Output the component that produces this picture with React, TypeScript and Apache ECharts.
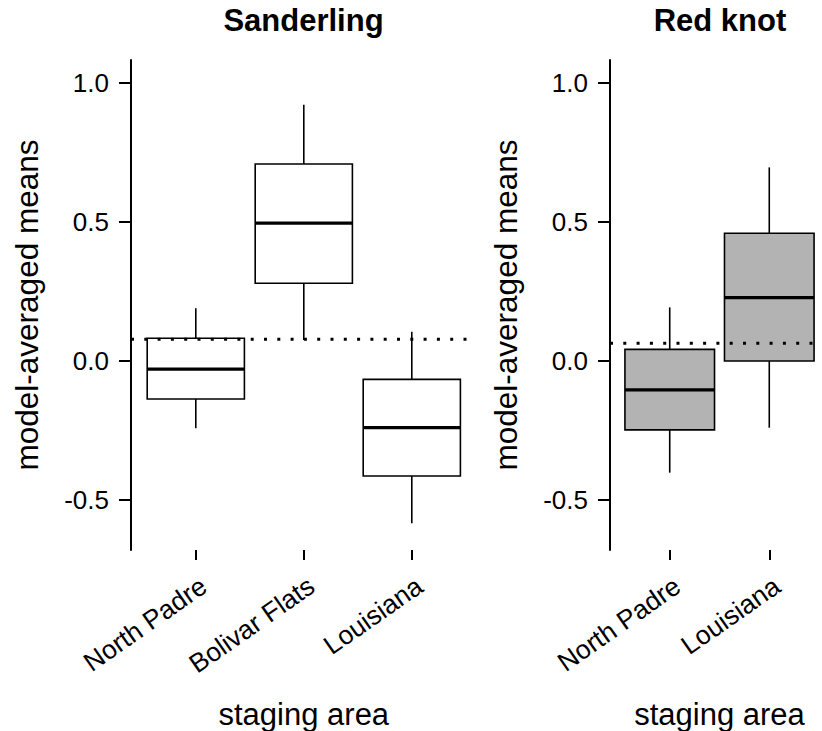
import React, { useEffect, useRef } from "react";
import * as echarts from "echarts";

// ---- data ----
const sanderlingSites = ["North Padre", "Bolivar Flats", "Louisiana"];
const sanderlingMin = [-0.242, 0.076, -0.584];
const sanderlingQ1 = [-0.137, 0.28, -0.414];
const sanderlingMedian = [-0.029, 0.496, -0.24];
const sanderlingQ3 = [0.082, 0.709, -0.066];
const sanderlingMax = [0.19, 0.922, 0.105];
const sanderlingRef = 0.078;

const redKnotSites = ["North Padre", "Louisiana"];
const redKnotMin = [-0.402, -0.24];
const redKnotQ1 = [-0.248, 0.0];
const redKnotMedian = [-0.104, 0.228];
const redKnotQ3 = [0.042, 0.46];
const redKnotMax = [0.193, 0.697];
const redKnotRef = 0.064;

const yTicks = [-0.5, 0, 0.5, 1.0];
const panelTitles = ["Sanderling", "Red knot"];
const xTitle = "staging area";
const yTitle = "model-averaged means";

const FONT = "'Liberation Sans', Arial, Helvetica, sans-serif";

function boxData(mins: number[], q1: number[], med: number[], q3: number[], max: number[]) {
  return mins.map((m, i) => [i + 1, m, q1[i], med[i], q3[i], max[i]]);
}

function makeRender(fill: string) {
  return (params: any, api: any) => {
    const x = api.value(0);
    const lo = api.coord([x, api.value(1)]);
    const q1 = api.coord([x, api.value(2)]);
    const med = api.coord([x, api.value(3)]);
    const q3 = api.coord([x, api.value(4)]);
    const hi = api.coord([x, api.value(5)]);
    const w = api.size([0.9, 0])[0];
    const cx = lo[0];
    const thin = { stroke: "#000", lineWidth: 1.6, fill: "none" };
    return {
      type: "group",
      children: [
        { type: "line", shape: { x1: cx, y1: hi[1], x2: cx, y2: q3[1] }, style: thin },
        { type: "line", shape: { x1: cx, y1: q1[1], x2: cx, y2: lo[1] }, style: thin },
        {
          type: "rect",
          shape: { x: cx - w / 2, y: q3[1], width: w, height: q1[1] - q3[1] },
          style: { fill, stroke: "#000", lineWidth: 1.6 },
        },
        {
          type: "line",
          shape: { x1: cx - w / 2, y1: med[1], x2: cx + w / 2, y2: med[1] },
          style: { stroke: "#000", lineWidth: 3.2 },
        },
      ],
    };
  };
}

function xAxisFor(sites: string[], gridIndex: number) {
  const vals = sites.map((_, i) => i + 1);
  return {
    type: "value",
    gridIndex,
    min: 0.4,
    max: sites.length + 0.6,
    name: xTitle,
    nameLocation: "middle",
    nameGap: 149,
    nameMoveOverlap: false,
    nameTextStyle: { fontSize: 31, color: "#000", fontFamily: FONT },
    axisLine: { show: false, onZero: false },
    splitLine: { show: false },
    axisTick: {
      show: true,
      customValues: vals,
      length: 10,
      lineStyle: { color: "#000", width: 2 },
    },
    axisLabel: {
      show: true,
      customValues: vals,
      formatter: (v: number) => sites[Math.round(v) - 1] ?? "",
      rotate: 35,
      align: "right",
      verticalAlign: "top",
      margin: 22,
      fontSize: 26.5,
      color: "#000",
      fontFamily: FONT,
    },
  };
}

function yAxisFor(gridIndex: number) {
  return {
    type: "value",
    gridIndex,
    min: -0.6803,
    max: 1.0835,
    name: yTitle,
    nameLocation: "middle",
    nameGap: 88,
    nameMoveOverlap: false,
    nameTextStyle: { fontSize: 31.5, color: "#000", fontFamily: FONT },
    splitLine: { show: false },
    axisLine: { show: true, onZero: false, lineStyle: { color: "#000", width: 2 } },
    axisTick: {
      show: true,
      customValues: yTicks,
      length: 12,
      lineStyle: { color: "#000", width: 2 },
    },
    axisLabel: {
      show: true,
      customValues: yTicks,
      formatter: (v: number) => v.toFixed(1),
      margin: 22,
      fontSize: 26,
      color: "#000",
      fontFamily: FONT,
    },
  };
}

export default function App() {
  const ref = useRef<HTMLDivElement>(null);
  useEffect(() => {
    if (!ref.current) return;
    const chart = echarts.init(ref.current, undefined, { renderer: "svg" });
    const titleStyle = {
      fontSize: 31,
      fontWeight: "bold",
      fontFamily: FONT,
      fill: "#000",
      align: "center",
      verticalAlign: "middle",
    };
    const option: any = {
      animation: false,
      backgroundColor: "#fff",
      grid: [
        { left: 131, top: 60, width: 345.6, height: 490, containLabel: false, outerBoundsMode: "none" },
        { left: 610, top: 60, width: 219, height: 490, containLabel: false, outerBoundsMode: "none" },
      ],
      xAxis: [xAxisFor(sanderlingSites, 0), xAxisFor(redKnotSites, 1)],
      yAxis: [yAxisFor(0), yAxisFor(1)],
      graphic: [
        { type: "text", x: 303.5, y: 20, style: { ...titleStyle, text: panelTitles[0] } },
        { type: "text", x: 720, y: 20, style: { ...titleStyle, text: panelTitles[1] } },
      ],
      series: [
        {
          type: "custom",
          xAxisIndex: 0,
          yAxisIndex: 0,
          renderItem: makeRender("#ffffff"),
          encode: { x: 0, y: [1, 2, 3, 4, 5] },
          data: boxData(sanderlingMin, sanderlingQ1, sanderlingMedian, sanderlingQ3, sanderlingMax),
          z: 2,
        },
        {
          type: "custom",
          xAxisIndex: 1,
          yAxisIndex: 1,
          renderItem: makeRender("#b3b3b3"),
          encode: { x: 0, y: [1, 2, 3, 4, 5] },
          data: boxData(redKnotMin, redKnotQ1, redKnotMedian, redKnotQ3, redKnotMax),
          z: 2,
        },
        {
          type: "line",
          xAxisIndex: 0,
          yAxisIndex: 0,
          data: [
            [0.4, sanderlingRef],
            [sanderlingSites.length + 0.6, sanderlingRef],
          ],
          symbol: "none",
          silent: true,
          clip: false,
          lineStyle: { color: "#000", width: 3, type: [3, 10.3] },
          z: 5,
        },
        {
          type: "line",
          xAxisIndex: 1,
          yAxisIndex: 1,
          data: [
            [0.4, redKnotRef],
            [redKnotSites.length + 0.6, redKnotRef],
          ],
          symbol: "none",
          silent: true,
          clip: false,
          lineStyle: { color: "#000", width: 3, type: [3, 10.3] },
          z: 5,
        },
      ],
    };
    chart.setOption(option);
    return () => chart.dispose();
  }, []);
  return (
    <div
      ref={ref}
      style={{ position: "fixed", left: 0, top: 0, width: 822, height: 731, background: "#fff" }}
    />
  );
}
